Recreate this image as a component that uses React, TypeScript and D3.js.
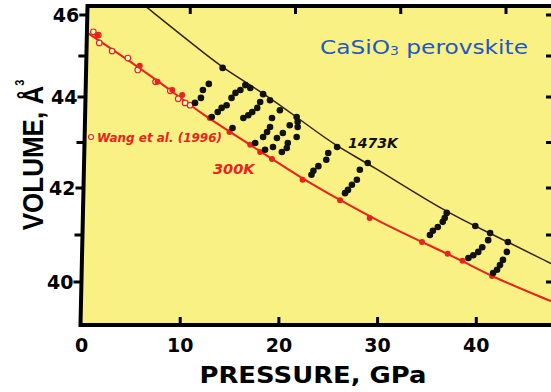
import * as d3 from 'd3';

const pressureTicks = [0, 10, 20, 30, 40];
const volumeTicks = [40, 41, 42, 43, 44, 45, 46];
const volumeLabels = [40, 42, 44, 46];

// [pressure GPa, volume A^3]
const wang1996 = [
  [1.2, 45.59], [1.7, 45.51], [1.8, 45.32], [3.1, 45.12], [4.7, 44.95], [5.7, 44.66],
  [7.5, 44.37], [9.0, 44.15], [9.8, 43.96], [10.5, 43.87], [11.0, 43.82],
];

const room300K = [
  [1.6, 45.51], [5.9, 44.76], [7.7, 44.37], [9.2, 44.17], [10.2, 44.05], [13.0, 43.54],
  [15.0, 43.23], [17.1, 42.95], [18.1, 42.79], [19.3, 42.64], [22.4, 42.18], [26.2, 41.74],
  [29.2, 41.36], [34.5, 40.85], [37.1, 40.6], [38.6, 40.45], [41.6, 40.13],
];

const highTemp = [
  [14.3, 44.71], [16.6, 44.29], [17.1, 44.22], [18.4, 44.07], [19.1, 43.93], [21.8, 43.56],
  [25.9, 42.9], [29.0, 42.55], [37.0, 41.47], [39.9, 41.19], [41.4, 41.04], [43.2, 40.85],
  [12.9, 44.32], [12.3, 44.17], [12.1, 43.98], [11.5, 43.87], [13.2, 43.56],
  [16.1, 44.17], [15.6, 44.1], [15.2, 43.98], [14.7, 43.82], [14.2, 43.76], [13.8, 43.67],
  [18.1, 43.89], [17.8, 43.76], [17.3, 43.67], [16.9, 43.6], [16.4, 43.54], [15.3, 43.32],
  [19.3, 43.54], [19.1, 43.34], [18.8, 43.23], [18.4, 43.12], [17.6, 42.99], [18.6, 42.84],
  [19.4, 42.9], [19.8, 43.1],
  [20.1, 43.71], [21.9, 43.45], [21.9, 43.34], [21.8, 43.12], [20.4, 43.21], [21.1, 43.38],
  [20.3, 42.79], [20.9, 42.99], [20.8, 42.88],
  [25.0, 42.77], [24.8, 42.62], [24.0, 42.48], [23.5, 42.38], [23.3, 42.29],
  [28.2, 42.4], [27.9, 42.18], [27.4, 42.07], [27.0, 41.96], [26.7, 41.89],
  [36.8, 41.36], [36.6, 41.28], [36.1, 41.17], [35.6, 41.09], [35.3, 41.0],
  [41.2, 40.89], [40.6, 40.74], [40.2, 40.64], [39.7, 40.57], [39.2, 40.51],
  [43.1, 40.64], [42.7, 40.47], [42.4, 40.36], [42.1, 40.26], [41.7, 40.19],
];

// fitted curves
const curve300K = [
  [0, 45.66], [5.9, 44.71], [9.0, 44.17], [12.0, 43.65], [17.1, 42.95], [22.1, 42.24],
  [26.2, 41.74], [30.2, 41.28], [34.5, 40.85], [38.6, 40.45], [41.4, 40.13], [47.0, 39.64],
  [48.0, 39.56],
];
const curve1473K = [
  [6.0, 46.31], [6.7, 46.17], [12.0, 45.15], [14.3, 44.71], [18.4, 44.1], [21.8, 43.56],
  [25.9, 42.9], [29.0, 42.55], [37.0, 41.47], [41.4, 41.04], [47.2, 40.43], [48.0, 40.35],
];

const RED = '#e8231c';
const FONT = '"DejaVu Sans", sans-serif';

export default function App() {
  const width = 551;
  const height = 392;
  const top = 6;
  const bottom = 325;
  const right = 553;
  const leftAt = (py: number) => 80.5 + ((bottom - py) / (bottom - top)) * 7;

  const x = d3.scaleLinear().domain([0, 40]).range([81.5, 476.3]);
  const xTop = d3.scaleLinear().domain([0, 40]).range([85, 506]);
  const y = d3.scaleLinear().domain([40, 42, 44, 46]).range([282, 188, 97, 15]);

  const line = d3
    .line<number[]>()
    .x((d) => x(d[0]))
    .y((d) => y(d[1]))
    .curve(d3.curveBasis);

  const frame = `${leftAt(top)},${top} ${right},${top} ${right},${bottom} ${leftAt(bottom)},${bottom}`;

  return (
    <svg width={width} height={height} style={{ position: 'absolute', left: 0, top: 0, background: '#fff' }}>
      <defs>
        <clipPath id="plot">
          <polygon points={frame} />
        </clipPath>
      </defs>
      <polygon points={frame} fill="#f9f184" />

      <g clipPath="url(#plot)">
        <path d={line(curve1473K) ?? ''} fill="none" stroke="#33230f" strokeWidth={1.5} />
        <path d={line(curve300K) ?? ''} fill="none" stroke={RED} strokeWidth={2} />
        {wang1996.map((d, i) => (
          <circle key={'w' + i} cx={x(d[0])} cy={y(d[1])} r={2.8} fill="#fbf6c8" stroke={RED} strokeWidth={1.2} />
        ))}
        {room300K.map((d, i) => (
          <circle key={'r' + i} cx={x(d[0])} cy={y(d[1])} r={3} fill={RED} />
        ))}
        {highTemp.map((d, i) => (
          <circle key={'h' + i} cx={x(d[0])} cy={y(d[1])} r={3.3} fill="#111" />
        ))}
      </g>

      <polygon points={frame} fill="none" stroke="#000" strokeWidth={4} />

      {/* ticks */}
      {volumeTicks.map((v) => {
        const py = y(v);
        const lx = leftAt(py);
        return (
          <g key={'yt' + v}>
            <line x1={lx - 8} x2={lx} y1={py} y2={py} stroke="#000" strokeWidth={3} />
            <line x1={right - 7} x2={right} y1={py} y2={py} stroke="#000" strokeWidth={3} />
          </g>
        );
      })}
      {pressureTicks.slice(1).map((p) => (
        <g key={'xt' + p}>
          <line x1={x(p)} x2={x(p)} y1={bottom} y2={bottom - 8} stroke="#000" strokeWidth={3} />
          <line x1={xTop(p)} x2={xTop(p)} y1={top} y2={top + 8} stroke="#000" strokeWidth={3} />
        </g>
      ))}

      {volumeLabels.map((v) => (
        <text
          key={'yl' + v}
          x={leftAt(y(v)) - 8}
          y={y(v)}
          dy="0.36em"
          textAnchor="end"
          fontFamily={FONT}
          fontWeight="bold"
          fontSize={19}
        >
          {v}
        </text>
      ))}
      {pressureTicks.map((p) => (
        <text
          key={'xl' + p}
          x={x(p)}
          y={352}
          textAnchor="middle"
          fontFamily={FONT}
          fontWeight="bold"
          fontSize={19}
        >
          {p}
        </text>
      ))}

      <text
        x={313}
        y={383}
        textAnchor="middle"
        fontFamily={FONT}
        fontWeight="bold"
        fontSize={23.5}
        textLength={227}
        lengthAdjust="spacingAndGlyphs"
      >
        PRESSURE, GPa
      </text>

      <g transform="translate(43,155) scale(1.1,1) rotate(-90)">
        <text textAnchor="middle" fontFamily='"Liberation Sans", Arial, sans-serif' fontWeight="bold" fontSize={26}>
          VOLUME, Å
          <tspan fontSize={11} dy={-17}>3</tspan>
        </text>
      </g>

      <text
        x={320}
        y={54}
        fontFamily={FONT}
        fontSize={20}
        fill="#1f58c2"
        textLength={208}
        lengthAdjust="spacingAndGlyphs"
      >
        CaSiO
        <tspan fontSize={12} dy={1}>3</tspan>
        <tspan dy={-1}> perovskite</tspan>
      </text>

      <circle cx={91} cy={137} r={2.5} fill="#fbf6c8" stroke={RED} strokeWidth={1.1} />
      <text
        x={97}
        y={142}
        fontFamily={FONT}
        fontWeight="bold"
        fontStyle="italic"
        fontSize={13}
        fill={RED}
        textLength={125}
        lengthAdjust="spacingAndGlyphs"
      >
        Wang et al. (1996)
      </text>
      <text x={213} y={174} fontFamily={FONT} fontWeight="bold" fontStyle="italic" fontSize={14.5} fill={RED}>
        300K
      </text>
      <text x={348} y={148} fontFamily={FONT} fontWeight="bold" fontStyle="italic" fontSize={14} fill="#111">
        1473K
      </text>
    </svg>
  );
}
